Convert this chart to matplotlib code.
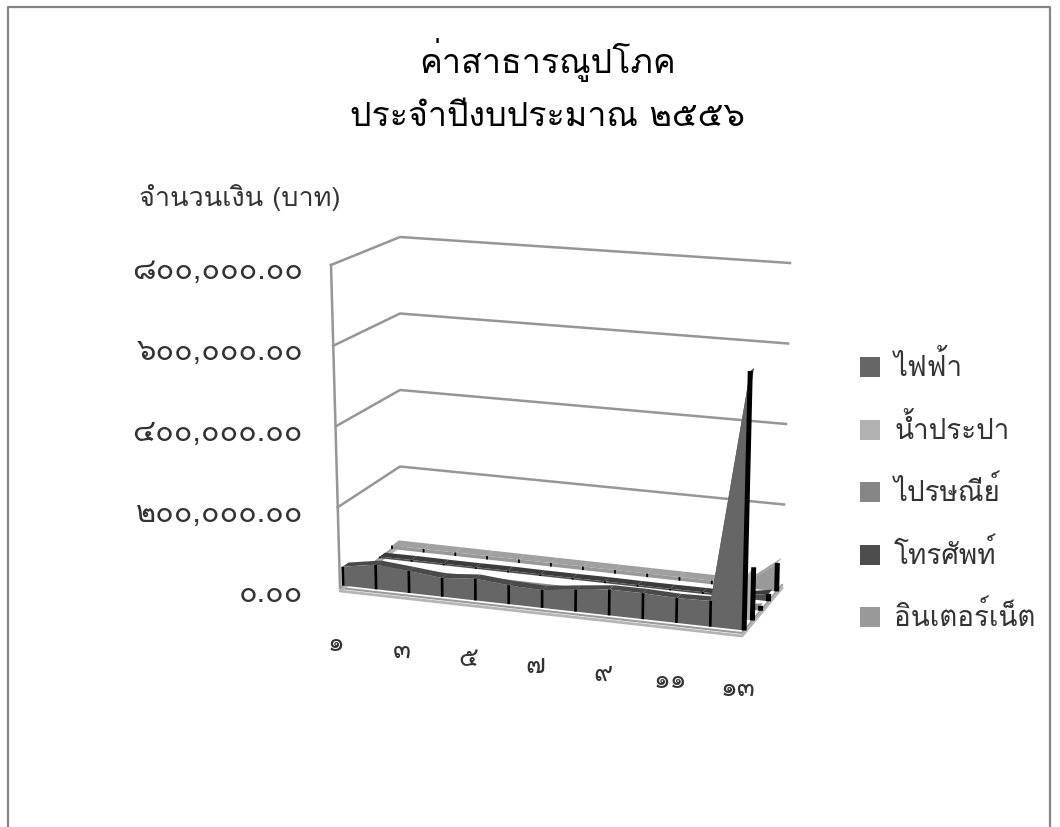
import numpy as np
import matplotlib
matplotlib.use('Agg')
import matplotlib.pyplot as plt
from matplotlib.patches import Polygon, Rectangle

plt.rcParams['font.family'] = ['Loma', 'Noto Sans Thai', 'Sarabun', 'DejaVu Sans']

title_lines = ['ค่าสาธารณูปโภค', 'ประจำปีงบประมาณ ๒๕๕๖']
y_title = 'จำนวนเงิน (บาท)'
y_ticks = [0, 200000, 400000, 600000, 800000]
y_tick_labels = ['๐.๐๐', '๒๐๐,๐๐๐.๐๐', '๔๐๐,๐๐๐.๐๐', '๖๐๐,๐๐๐.๐๐', '๘๐๐,๐๐๐.๐๐']
x_labels = ['๑', '๓', '๕', '๗', '๙', '๑๑', '๑๓']
x_label_cats = [0, 2, 4, 6, 8, 10, 12]

names = ['ไฟฟ้า', 'น้ำประปา', 'ไปรษณีย์', 'โทรศัพท์', 'อินเตอร์เน็ต']
colors = ['#666666', '#b2b2b2', '#868686', '#4d4d4d', '#999999']
top_colors = ['#4a4a4a', '#c8c8c8', '#8a8a8a', '#3c3c3c', '#a0a0a0']

electric = [47000, 61000, 54000, 46000, 53000, 46000, 43000, 53000, 62000, 62000, 59000, 61000, 612000]
water = [18000, 20000, 19000, 18000, 20000, 22000, 21000, 18000, 17000, 16000, 15000, 15000, 127000]
post = [1000, 1500, 1000, 1000, 1500, 1000, 1000, 1500, 1000, 1000, 1500, 1000, 12000]
phone = [4000, 4500, 4000, 4000, 4500, 4000, 4000, 4500, 4000, 4000, 4500, 4000, 18000]
internet = [9000, 9000, 9000, 9000, 9000, 9000, 9000, 9000, 9000, 9000, 9000, 9000, 70000]
series = [electric, water, post, phone, internet]
depths = [0.05, 0.25, 0.45, 0.65, 0.86]
thick = [0.09, 0.05, 0.05, 0.09, 0.12]
tick_lw = [1.9, 1.4, 1.2, 1.3, 1.3]

y_max = 800000

# where the floor and the top of the box land in the picture
floor_px = [(340, 588), (742, 633), (782, 585), (400, 543)]
top_px = [(331, 265), (750, 293), (790, 263), (400, 237)]


def plane(px):
    # unit square -> picture homography
    rows, rhs = [], []
    for (a, b), (sx, sy) in zip([(0, 0), (1, 0), (1, 1), (0, 1)], px):
        rows.append([a, b, 1, 0, 0, 0, -sx*a, -sx*b])
        rows.append([0, 0, 0, a, b, 1, -sy*a, -sy*b])
        rhs += [sx, sy]
    return np.append(np.linalg.solve(np.array(rows, float), np.array(rhs, float)), 1).reshape(3, 3)


floor_h = plane(floor_px)
top_h = plane(top_px)


def proj(cat, depth, value):
    q = np.array([cat / 12, depth, 1])
    p0 = floor_h @ q
    p1 = top_h @ q
    p0 = p0[:2] / p0[2]
    p1 = p1[:2] / p1[2]
    return tuple(p0 + (p1 - p0) * value / y_max)


fig = plt.figure(figsize=(10.6, 8.27), dpi=100)
ax = fig.add_axes([0, 0, 1, 1])
ax.set_xlim(0, 1060)
ax.set_ylim(827, 0)
ax.axis('off')

# chart border, cut off by the bottom of the image
ax.plot([8, 8, 1050, 1050], [827, 7, 7, 827], color='#868686', lw=1.6)

for i, line in enumerate(title_lines):
    ax.text(548, 60 + i * 58, line, ha='center', va='center', fontsize=24.5, color='black')
ax.text(240, 198, y_title, ha='center', va='center', fontsize=19.5, color='#333333')

# walls
for v, lab in zip(y_ticks, y_tick_labels):
    a = proj(0, 0, v)
    b = proj(0, 1, v)
    c = proj(12, 1, v)
    if v > 0:
        ax.plot([a[0], b[0], c[0]], [a[1], b[1], c[1]], color='#969696', lw=1.8)
    ax.text(303, a[1] + 6, lab, ha='right', va='center', fontsize=22, color='#333333')
a = proj(0, 0, 0)
b = proj(0, 0, y_max)
ax.plot([a[0], b[0]], [a[1], b[1]], color='#969696', lw=1.8)

# floor edges
for off, col, w in [(0, '#9a9a9a', 1.5), (3, '#b5b5b5', 2.0)]:
    pts = [proj(0, 1, 0), proj(0, 0, 0), proj(12, 0, 0), proj(12, 1, 0)]
    ax.plot([p[0] for p in pts], [p[1] + off for p in pts], color=col, lw=w)

# ribbons, back to front
for k in range(len(series) - 1, -1, -1):
    vals = series[k]
    d = depths[k]
    t = thick[k]
    for i in range(len(vals) - 1, 0, -1):
        top = [proj(i - 1, d, vals[i - 1]), proj(i, d, vals[i]),
               proj(i, d + t, vals[i]), proj(i - 1, d + t, vals[i - 1])]
        ax.add_patch(Polygon(top, closed=True, fc=top_colors[k], ec='none', zorder=3 + (4 - k) * 2))
        face = [proj(i - 1, d, 0), proj(i, d, 0), proj(i, d, vals[i]), proj(i - 1, d, vals[i - 1])]
        ax.add_patch(Polygon(face, closed=True, fc=colors[k], ec='none', zorder=3.5 + (4 - k) * 2))
    for i, v in enumerate(vals):
        p0 = proj(i, d, 0)
        p1 = proj(i, d, v)
        lw = 3.6 if i == len(vals) - 1 else tick_lw[k]
        ax.plot([p0[0], p1[0]], [p0[1], p1[1]], color='black', lw=lw,
                solid_capstyle='butt', zorder=3.8 + (4 - k) * 2)

for cat, lab in zip(x_label_cats, x_labels):
    x, y = proj(cat, 0, 0)
    ax.text(x - 4, y + 56, lab, ha='center', va='center', fontsize=19, color='#333333')

# legend
for i, (n, c) in enumerate(zip(names, colors)):
    y = 367 + i * 62.5
    ax.add_patch(Rectangle((860, y - 10), 20, 20, fc=c, ec='none'))
    ax.text(894, y, n, ha='left', va='center', fontsize=20, color='#333333')

fig.savefig('out.png', dpi=100)
